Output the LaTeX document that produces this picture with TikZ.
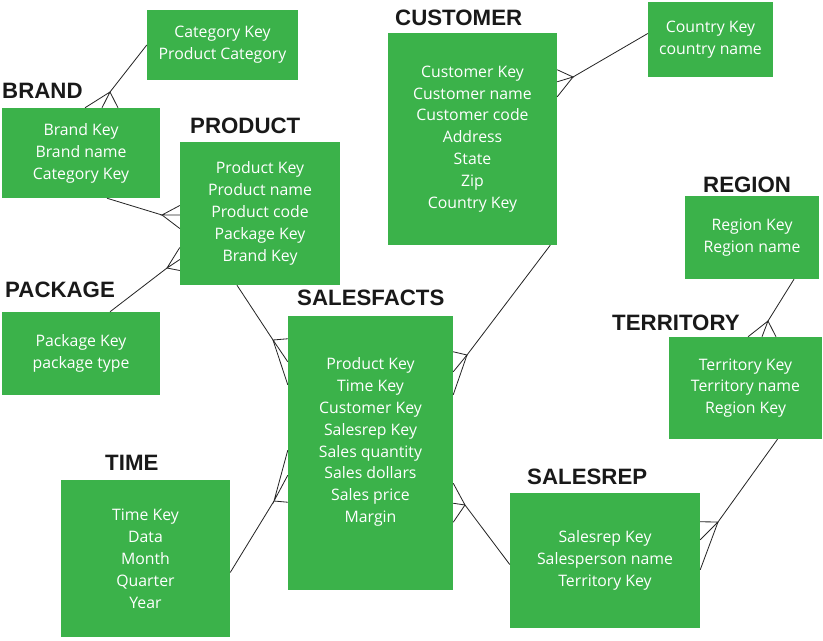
\documentclass[tikz,border=0pt]{standalone}
\usepackage{fontspec}
\setmainfont{Open Sans}
\newfontfamily\titlefont{Liberation Sans}
\usetikzlibrary{calc}
\definecolor{erdgreen}{RGB}{59,178,74}

\begin{document}
\begin{tikzpicture}%
        [x=0.3mm, y=-0.3mm,
        table/.style={fill=erdgreen, text=white, align=center, inner sep=0pt,
                      font=\fontsize{13.5}{18.7}\selectfont},
        title/.style={anchor=west, inner sep=0pt, text=black!90,
                      font=\titlefont\bfseries\fontsize{19}{20}\selectfont},
        link/.style={color=black!85, line width=0.7pt}]

    \useasboundingbox (0,0) rectangle (823,640);
    %% Drawing the tables
    \node[table, minimum width=45.3mm, minimum height=21mm] (cat) at (222.5,45)
        {Category Key\\Product Category};
    \node[table, minimum width=47.4mm, minimum height=27mm] (brand) at (81,153)
        {Brand Key\\Brand name\\Category Key};
    \node[table, minimum width=48mm, minimum height=42.9mm] (product) at (260,213.5)
        {Product Key\\Product name\\Product code\\Package Key\\Brand Key};
    \node[table, minimum width=47.4mm, minimum height=24.9mm] (package) at (81,353.5)
        {Package Key\\package type};
    \node[table, minimum width=50.7mm, minimum height=63.6mm] (customer) at (472.5,139)
        {Customer Key\\Customer name\\Customer code\\Address\\State\\Zip\\Country Key};
    \node[table, minimum width=37.5mm, minimum height=22.5mm] (country) at (710.5,39.5)
        {Country Key\\country name};
    \node[table, minimum width=40.2mm, minimum height=24.9mm] (region) at (752,237.5)
        {Region Key\\Region name};
    \node[table, minimum width=45.9mm, minimum height=30.6mm] (territory) at (745.5,388)
        {Territory Key\\Territory name\\Region Key};
    \node[table, minimum width=49.5mm, minimum height=82.2mm] (sales) at (370.5,453)
        {Product Key\\Time Key\\Customer Key\\Salesrep Key\\Sales quantity\\Sales dollars\\Sales price\\Margin\\[1.2mm]};
    \node[table, minimum width=50.7mm, minimum height=47.1mm] (time) at (145.5,558.5)
        {Time Key\\Data\\Month\\Quarter\\Year};
    \node[table, minimum width=57mm, minimum height=40.5mm] (salesrep) at (605,560.5)
        {Salesrep Key\\Salesperson name\\Territory Key};
    %%
    %% Drawing the titles
    %%
    \node[title] (brandtitle) at (2,91) {BRAND};
    \node[title] (producttitle) at (190,126) {PRODUCT};
    \node[title] (packagetitle) at (5,290) {PACKAGE};
    \node[title] (customertitle) at (395,18) {CUSTOMER};
    \node[title] (regiontitle) at (703,185) {REGION};
    \node[title] (territorytitle) at (612,323) {TERRITORY};
    \node[title] (salestitle) at (297,298) {SALESFACTS};
    \node[title] (timetitle) at (105,463) {TIME};
    \node[title] (salesreptitle) at (527,477) {SALESREP};
    %%
    %% Drawing the links with crow's feet
    %%
    \coordinate (j1) at (110,92);
    \coordinate (j2) at (162,215);
    \coordinate (j3) at (167,268);
    \coordinate (j4) at (273,340);
    \coordinate (j5) at (573,77);
    \coordinate (j6) at (467,355);
    \coordinate (j7) at (274,501);
    \coordinate (j8) at (465,505);
    \coordinate (j9) at (718,522);
    \coordinate (j10) at (768,321);
    % category - brand
    \draw[link] (cat.west) -- (j1);
    \draw[link] ($(brand.north)+(4,0)$) -- (j1) -- ($(brand.north)+(21,0)$);
    \draw[link] (j1) -- ($(brand.north)+(37,0)$);
    % brand - product
    \draw[link] ($(brand.south)+(26,0)$) -- (j2);
    \draw[link] ($(product.west)+(0,-8)$) -- (j2) -- ($(product.west)+(0,1.5)$);
    \draw[link] (j2) -- ($(product.west)+(0,15)$);
    % package - product
    \draw[link] ($(package.north)+(29,0)$) -- (j3);
    \draw[link] ($(product.west)+(0,34)$) -- (j3) -- ($(product.west)+(0,46)$);
    \draw[link] (j3) -- ($(product.west)+(0,57)$);
    % product - salesfacts
    \draw[link] ($(product.south)+(-23,0)$) -- (j4);
    \draw[link] ($(sales.north west)+(0,23)$) -- (j4) -- ($(sales.north west)+(0,46)$);
    \draw[link] (j4) -- ($(sales.north west)+(0,69)$);
    % country - customer
    \draw[link] ($(country.west)+(0,-6)$) -- (j5);
    \draw[link] ($(customer.north east)+(0,37)$) -- (j5) -- ($(customer.north east)+(0,49)$);
    \draw[link] (j5) -- ($(customer.north east)+(0,64)$);
    % customer - salesfacts
    \draw[link] ($(customer.south east)+(-7,0)$) -- (j6);
    \draw[link] ($(sales.north east)+(0,36)$) -- (j6) -- ($(sales.north east)+(0,56)$);
    \draw[link] (j6) -- ($(sales.north east)+(0,79)$);
    % time - salesfacts
    \draw[link] ($(time.east)+(0,14)$) -- (j7);
    \draw[link] ($(sales.south west)+(0,-140)$) -- (j7) -- ($(sales.south west)+(0,-115)$);
    \draw[link] (j7) -- ($(sales.south west)+(0,-88)$);
    % salesrep - salesfacts
    \draw[link] ($(salesrep.west)+(0,4)$) -- (j8);
    \draw[link] ($(sales.south east)+(0,-107)$) -- (j8) -- ($(sales.south east)+(0,-87)$);
    \draw[link] (j8) -- ($(sales.south east)+(0,-68)$);
    % territory - salesrep
    \draw[link] ($(territory.south)+(32,0)$) -- (j9);
    \draw[link] ($(salesrep.north east)+(0,29)$) -- (j9) -- ($(salesrep.north east)+(0,47)$);
    \draw[link] (j9) -- ($(salesrep.north east)+(0,77)$);
    % region - territory
    \draw[link] ($(region.south)+(42,0)$) -- (j10);
    \draw[link] ($(territory.north)+(2.5,0)$) -- (j10) -- ($(territory.north)+(16.5,0)$);
    \draw[link] (j10) -- ($(territory.north)+(30.5,0)$);
    %%
    \end{tikzpicture}
\end{document}
